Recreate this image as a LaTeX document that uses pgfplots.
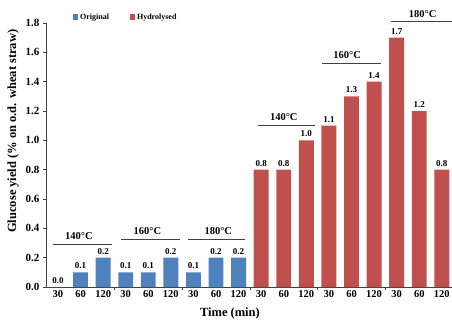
\documentclass[border=0pt]{standalone}
\usepackage{pgfplots}
\pgfplotsset{compat=1.18}
\usepackage{fontspec}
\setmainfont{Liberation Serif}
\definecolor{origblue}{HTML}{4F81BD}
\definecolor{hydred}{HTML}{C0504D}
\begin{document}
\begin{tikzpicture}
\begin{axis}[
  scale only axis, width=406bp, height=264bp,
  xmin=-0.53, xmax=17.45, ymin=0, ymax=1.8,
  enlargelimits=false, clip=false,
  axis x line=bottom, axis y line=left,
  axis line style={-, black!75, line width=0.8bp},
  tick align=outside, major tick length=3bp,
  tick style={black!75, line width=0.8bp},
  /pgf/number format/assume math mode=true,
  ytick={0,0.2,0.4,0.6,0.8,1.0,1.2,1.4,1.6,1.8},
  yticklabel style={font=\bfseries\fontsize{11bp}{12bp}\selectfont,
    /pgf/number format/fixed, /pgf/number format/fixed zerofill, /pgf/number format/precision=1},
  xtick={2.5,5.5,8.5,11.5,14.5},
  xticklabels={},
  extra x ticks={0,1,2,3,4,5,6,7,8,9,10,11,12,13,14,15,16,17},
  extra x tick labels={30,60,120,30,60,120,30,60,120,30,60,120,30,60,120,30,60,120},
  extra x tick style={major tick length=0pt, tick style={draw=none},
    xticklabel style={font=\bfseries\fontsize{10.5bp}{12bp}\selectfont}},
  ylabel={Glucose yield (\% on o.d. wheat straw)},
  ylabel style={at={(ticklabel cs:0.59)}, font=\bfseries\fontsize{12.5bp}{14bp}\selectfont},
  xlabel={Time (min)},
  xlabel style={at={(ticklabel cs:0.453)}, font=\bfseries\fontsize{12.5bp}{14bp}\selectfont},
  legend style={at={(rel axis cs:0,1)}, anchor=west, xshift=24bp, yshift=6bp,
    draw=none, fill=none, legend columns=2,
    font=\bfseries\fontsize{8bp}{9bp}\selectfont,
    /tikz/every even column/.append style={column sep=19bp}},
  mybar/.style={ybar, bar width=0.66, bar shift=0pt, draw=none,
    nodes near coords,
    nodes near coords style={font=\bfseries\fontsize{9bp}{10bp}\selectfont, black,
      /pgf/number format/fixed, /pgf/number format/fixed zerofill, /pgf/number format/precision=1},
    legend image code/.code={\path[##1, draw=none] (0bp,-2.5bp) rectangle (5bp,2.5bp);}},
  grp/.style={sharp plot, no marks, forget plot, black!75, line width=0.8bp},
]
\addplot[mybar, fill=origblue] coordinates {(0,0.0) (1,0.1) (2,0.2) (3,0.1) (4,0.1) (5,0.2) (6,0.1) (7,0.2) (8,0.2)};
\addlegendentry{Original}
\addplot[mybar, fill=hydred] coordinates {(9,0.8) (10,0.8) (11,1.0) (12,1.1) (13,1.3) (14,1.4) (15,1.7) (16,1.2) (17,0.8)};
\addlegendentry{Hydrolysed}

\addplot[grp] coordinates {(-0.2,0.293) (2.4,0.293)};
\addplot[grp] coordinates {(2.8,0.327) (5.4,0.327)};
\addplot[grp] coordinates {(5.75,0.327) (8.3,0.327)};
\addplot[grp] coordinates {(8.84,1.104) (11.4,1.104)};
\addplot[grp] coordinates {(11.7,1.525) (14.3,1.525)};
\addplot[grp] coordinates {(14.76,1.81) (17.45,1.81)};

\begin{scope}[every node/.style={font=\bfseries\fontsize{10.5bp}{12bp}\selectfont, anchor=base, yshift=4.5bp}]
\node at (axis cs:0.93,0.293) {140°C};
\node at (axis cs:3.96,0.327) {160°C};
\node at (axis cs:7.1,0.327) {180°C};
\node at (axis cs:10.0,1.104) {140°C};
\node at (axis cs:12.81,1.525) {160°C};
\node at (axis cs:16.15,1.81) {180°C};
\end{scope}
\end{axis}
\pgfresetboundingbox
\useasboundingbox ([shift={(-46bp,-35bp)}]current axis.south west) rectangle ([shift={(0bp,23bp)}]current axis.north east);
\end{tikzpicture}
\end{document}
